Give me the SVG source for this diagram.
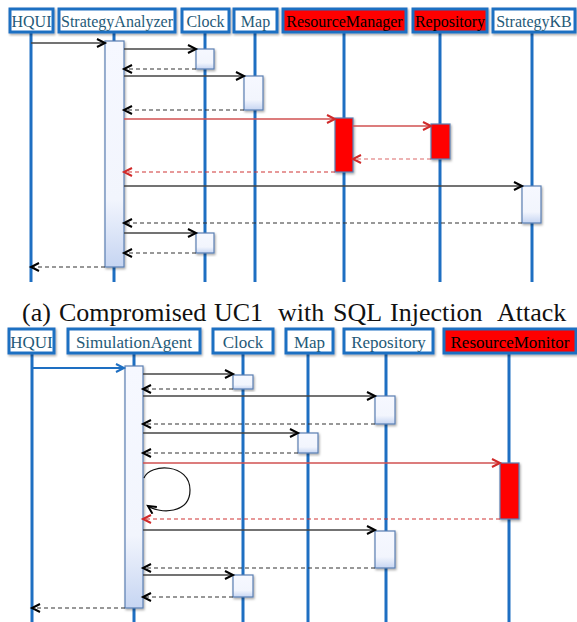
<svg xmlns="http://www.w3.org/2000/svg" width="577" height="622" viewBox="0 0 577 622">
<defs>
<linearGradient id="act" x1="0" y1="0" x2="0" y2="1">
<stop offset="0" stop-color="#f6f8ff"/>
<stop offset="0.7" stop-color="#f2f5fd"/>
<stop offset="1" stop-color="#c6d5f2"/>
</linearGradient>
<filter id="sh" x="-30%" y="-10%" width="160%" height="130%">
<feDropShadow dx="1" dy="1.5" stdDeviation="1.2" flood-color="#000" flood-opacity="0.35"/>
</filter>
<marker id="ah" markerUnits="userSpaceOnUse" markerWidth="12" markerHeight="12" refX="9" refY="5" orient="auto">
<path d="M1,1 L9,5 L1,9" fill="none" stroke="#000" stroke-width="2"/>
</marker>
<marker id="ahr" markerUnits="userSpaceOnUse" markerWidth="12" markerHeight="12" refX="9" refY="5" orient="auto">
<path d="M1,1 L9,5 L1,9" fill="none" stroke="#d02a2a" stroke-width="2"/>
</marker>
<marker id="ahb" markerUnits="userSpaceOnUse" markerWidth="12" markerHeight="12" refX="9" refY="5" orient="auto">
<path d="M1,1 L9,5 L1,9" fill="none" stroke="#1e6fc2" stroke-width="2"/>
</marker>
</defs>
<style>
.hd{fill:#fff;stroke:#1e6fc2;stroke-width:3;filter:url(#sh)}
.hdr{fill:#ff0000;stroke:#1e6fc2;stroke-width:3;filter:url(#sh)}
.ht{font-family:"Liberation Serif","Times New Roman",serif;fill:#1f5a78;text-anchor:middle}
.htr{font-family:"Liberation Serif","Times New Roman",serif;fill:#000;text-anchor:middle}
.ll{stroke:#1e6fc2;stroke-width:3}
.ac{fill:url(#act);stroke:#5a7fb2;stroke-width:1.2;filter:url(#sh)}
.acr{fill:#ff0000;stroke:#5a7fb2;stroke-width:1.2;filter:url(#sh)}
.m{stroke:#444;stroke-width:1.3;fill:none;marker-end:url(#ah)}
.r{stroke:#333;stroke-width:1.2;stroke-dasharray:4,3;fill:none;marker-end:url(#ah)}
.mr{stroke:#d05050;stroke-width:1.3;fill:none;marker-end:url(#ahr)}
.rr{stroke:#d03535;stroke-width:1.2;stroke-dasharray:4,3;fill:none;marker-end:url(#ahr)}
.cap{font-family:"Liberation Serif","Times New Roman",serif;font-size:26px;fill:#111}
</style>

<!-- Top diagram -->
<g id="top-lifelines">
<line class="ll" x1="31" y1="32" x2="31" y2="282"/>
<line class="ll" x1="114" y1="32" x2="114" y2="282"/>
<line class="ll" x1="205" y1="32" x2="205" y2="282"/>
<line class="ll" x1="255" y1="32" x2="255" y2="282"/>
<line class="ll" x1="344" y1="32" x2="344" y2="282"/>
<line class="ll" x1="440" y1="32" x2="440" y2="282"/>
<line class="ll" x1="532" y1="32" x2="532" y2="282"/>
</g>
<g id="t-HQUI"><rect class="hd" x="10" y="9" width="43" height="23"/><text class="ht" x="31.5" y="27" font-size="16">HQUI</text></g>
<g id="t-StrategyAnalyzer"><rect class="hd" x="59" y="9" width="116" height="23"/><text class="ht" x="117" y="27" font-size="16">StrategyAnalyzer</text></g>
<g id="t-Clock"><rect class="hd" x="182" y="9" width="47" height="23"/><text class="ht" x="205.5" y="27" font-size="16">Clock</text></g>
<g id="t-Map"><rect class="hd" x="234" y="9" width="43" height="23"/><text class="ht" x="255.5" y="27" font-size="16">Map</text></g>
<g id="t-ResourceManager"><rect class="hdr" x="283" y="9" width="123" height="23"/><text class="htr" x="344.5" y="27" font-size="16">ResourceManager</text></g>
<g id="t-Repository"><rect class="hdr" x="413" y="9" width="74" height="23"/><text class="htr" x="450" y="27" font-size="16">Repository</text></g>
<g id="t-StrategyKB"><rect class="hd" x="493" y="9" width="82" height="23"/><text class="ht" x="534" y="27" font-size="16">StrategyKB</text></g>

<g id="top-activations">
<rect class="ac" x="105" y="41" width="19" height="226"/>
<rect class="ac" x="196" y="49" width="18" height="20"/>
<rect class="ac" x="244" y="76" width="19" height="34"/>
<rect class="acr" x="335" y="118" width="18" height="54"/>
<rect class="acr" x="431" y="124" width="19" height="35"/>
<rect class="ac" x="522" y="186" width="19" height="37"/>
<rect class="ac" x="196" y="233" width="18" height="20"/>
</g>

<g id="top-connectors">
<line class="m" x1="31" y1="43" x2="105" y2="43"/>
<line class="m" x1="124" y1="49" x2="196" y2="49"/>
<line class="r" x1="196" y1="69" x2="124" y2="69"/>
<line class="m" x1="124" y1="76" x2="244" y2="76"/>
<line class="r" x1="244" y1="110" x2="124" y2="110"/>
<line class="mr" x1="124" y1="119" x2="335" y2="119"/>
<line class="mr" x1="353" y1="126" x2="431" y2="126"/>
<line class="rr" x1="431" y1="159" x2="353" y2="159" stroke-opacity="0.75"/>
<line class="rr" x1="335" y1="172" x2="124" y2="172"/>
<line class="m" x1="124" y1="186" x2="522" y2="186"/>
<line class="r" x1="522" y1="223" x2="124" y2="223"/>
<line class="m" x1="124" y1="233" x2="196" y2="233"/>
<line class="r" x1="196" y1="253" x2="124" y2="253"/>
<line class="r" x1="105" y1="267" x2="31" y2="267"/>
</g>

<text class="cap" y="321"><tspan x="22">(a)</tspan><tspan x="59">Compromised</tspan><tspan x="214">UC1</tspan><tspan x="278">with</tspan><tspan x="333">SQL</tspan><tspan x="390">Injection</tspan><tspan x="497">Attack</tspan></text>

<!-- Bottom diagram -->
<g id="bottom-lifelines">
<line class="ll" x1="32" y1="353" x2="32" y2="622"/>
<line class="ll" x1="134" y1="353" x2="134" y2="622"/>
<line class="ll" x1="243" y1="353" x2="243" y2="622"/>
<line class="ll" x1="308" y1="353" x2="308" y2="622"/>
<line class="ll" x1="386" y1="353" x2="386" y2="622"/>
<line class="ll" x1="509" y1="353" x2="509" y2="622"/>
</g>
<g id="b-HQUI"><rect class="hd" x="9" y="329" width="45" height="24"/><text class="ht" x="31.5" y="348" font-size="17">HQUI</text></g>
<g id="b-SimulationAgent"><rect class="hd" x="68" y="329" width="132" height="24"/><text class="ht" x="134" y="348" font-size="17">SimulationAgent</text></g>
<g id="b-Clock"><rect class="hd" x="213" y="329" width="60" height="24"/><text class="ht" x="243" y="348" font-size="17">Clock</text></g>
<g id="b-Map"><rect class="hd" x="286" y="329" width="47" height="24"/><text class="ht" x="309.5" y="348" font-size="17">Map</text></g>
<g id="b-Repository"><rect class="hd" x="344" y="329" width="89" height="24"/><text class="ht" x="388.5" y="348" font-size="17">Repository</text></g>
<g id="b-ResourceMonitor"><rect class="hdr" x="444" y="329" width="132" height="24"/><text class="htr" x="510" y="348" font-size="17">ResourceMonitor</text></g>

<g id="bottom-activations">
<rect class="ac" x="125" y="366" width="18" height="242"/>
<rect class="ac" x="233" y="375" width="20" height="14"/>
<rect class="ac" x="375" y="396" width="20" height="28"/>
<rect class="ac" x="298" y="433" width="20" height="20"/>
<rect class="acr" x="500" y="463" width="19" height="56"/>
<rect class="ac" x="375" y="531" width="20" height="37"/>
<rect class="ac" x="233" y="575" width="20" height="22"/>
</g>

<g id="bottom-connectors">
<line x1="32" y1="368" x2="124" y2="368" stroke="#1e6fc2" stroke-width="2" marker-end="url(#ahb)"/>
<line class="m" x1="143" y1="374" x2="233" y2="374"/>
<line class="r" x1="233" y1="389" x2="143" y2="389"/>
<line class="m" x1="143" y1="396" x2="375" y2="396"/>
<line class="r" x1="375" y1="424" x2="143" y2="424"/>
<line class="m" x1="143" y1="433" x2="298" y2="433"/>
<line class="r" x1="298" y1="453" x2="143" y2="453"/>
<line class="mr" x1="143" y1="463" x2="500" y2="463"/>
<path d="M144,478 C150,463 190,463 190,490 C190,514 160,514 148,506" fill="none" stroke="#111" stroke-width="1.2" marker-end="url(#ah)"/>
<line class="rr" x1="500" y1="519" x2="143" y2="519"/>
<line class="m" x1="143" y1="530" x2="375" y2="530"/>
<line class="r" x1="375" y1="568" x2="143" y2="568"/>
<line class="m" x1="143" y1="575" x2="233" y2="575"/>
<line class="r" x1="233" y1="597" x2="143" y2="597"/>
<line class="r" x1="125" y1="608" x2="32" y2="608"/>
</g>
</svg>
